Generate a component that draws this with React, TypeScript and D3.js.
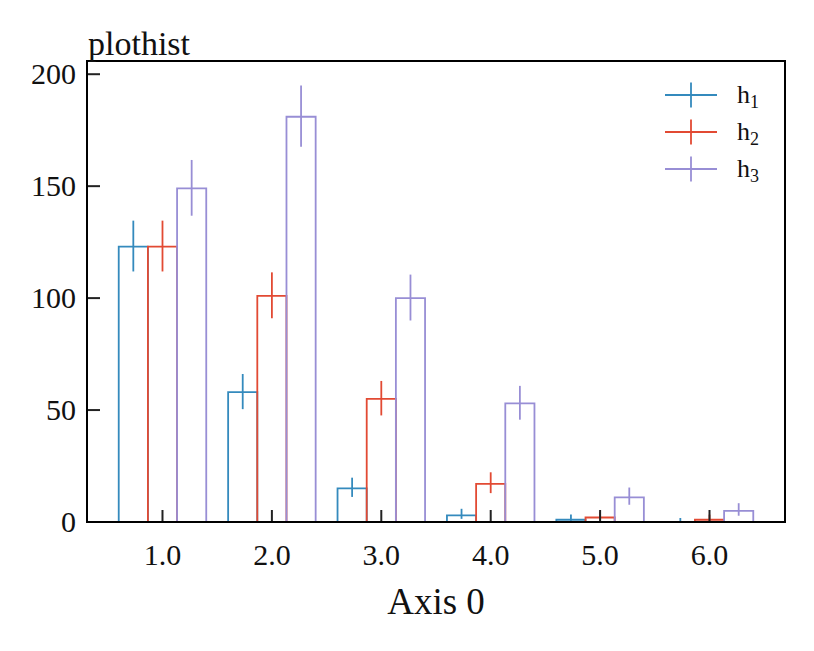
import React from "react";
import * as d3 from "d3";

const binCenters = [1, 2, 3, 4, 5, 6];
const h1Values = [123, 58, 15, 3, 1, 0];
const h1ErrLo = [11.1, 7.6, 3.8, 1.6, 0.8, 0];
const h1ErrHi = [11.6, 8.1, 4.8, 2.9, 2.3, 1.8];
const h2Values = [123, 101, 55, 17, 2, 1];
const h2ErrLo = [11.1, 10.0, 7.4, 4.1, 1.3, 0.8];
const h2ErrHi = [11.6, 10.5, 8.0, 5.2, 2.6, 2.3];
const h3Values = [149, 181, 100, 53, 11, 5];
const h3ErrLo = [12.2, 13.4, 10.0, 7.3, 3.3, 2.2];
const h3ErrHi = [12.7, 14.0, 10.5, 7.8, 4.4, 3.4];
const xTicks = [1, 2, 3, 4, 5, 6];
const yTicks = [0, 50, 100, 150, 200];
const seriesNames = ["1", "2", "3"];
const seriesColors = ["#348ABD", "#E24A33", "#988ED5"];

const W = 814;
const H = 651;
const M = { left: 87, right: 785, top: 61, bottom: 522 };
const FONT = "'Liberation Serif', 'Times New Roman', serif";

export default function App() {
  const x = d3.scaleLinear().domain([0.31, 6.69]).range([M.left, M.right]);
  const y = d3.scaleLinear().domain([0, 205.9]).range([M.bottom, M.top]);
  const series = [
    { v: h1Values, lo: h1ErrLo, hi: h1ErrHi },
    { v: h2Values, lo: h2ErrLo, hi: h2ErrHi },
    { v: h3Values, lo: h3ErrLo, hi: h3ErrHi },
  ];
  const groupW = 0.8;
  const subW = groupW / series.length;

  return (
    <svg
      width={W}
      height={H}
      style={{ position: "absolute", left: 0, top: 0, background: "#fff" }}
      fontFamily={FONT}
    >
      <rect x={0} y={0} width={W} height={H} fill="#fff" />
      <defs>
        <clipPath id="plotclip">
          <rect x={M.left} y={M.top} width={M.right - M.left} height={M.bottom - M.top} />
        </clipPath>
      </defs>
      <g clipPath="url(#plotclip)">
        {series.map((s, si) => (
          <g key={si} stroke={seriesColors[si]} fill="none" strokeWidth={1.8}>
            {binCenters.map((c, bi) => {
              const x0 = x(c - groupW / 2 + si * subW);
              const x1 = x(c - groupW / 2 + (si + 1) * subW);
              const xm = (x0 + x1) / 2;
              const v = s.v[bi];
              const p = d3.path();
              p.moveTo(x0, y(0));
              p.lineTo(x0, y(v));
              p.lineTo(x1, y(v));
              p.lineTo(x1, y(0));
              return (
                <g key={bi}>
                  <path d={p.toString()} />
                  <line x1={xm} x2={xm} y1={y(v - s.lo[bi])} y2={y(v + s.hi[bi])} />
                </g>
              );
            })}
          </g>
        ))}
      </g>
      {xTicks.map((t) => (
        <g key={"x" + t}>
          <line x1={x(t)} x2={x(t)} y1={M.bottom} y2={M.bottom - 12} stroke="#222" strokeWidth={2} />
          <text x={x(t)} y={565} textAnchor="middle" fontSize={30} fill="#111">
            {t.toFixed(1)}
          </text>
        </g>
      ))}
      {yTicks.map((t) => (
        <g key={"y" + t}>
          <line x1={M.left} x2={M.left + 13} y1={y(t)} y2={y(t)} stroke="#222" strokeWidth={2} />
          <text x={76} y={y(t) + 10} textAnchor="end" fontSize={30} fill="#111">
            {t}
          </text>
        </g>
      ))}
      <rect
        x={M.left}
        y={M.top}
        width={M.right - M.left}
        height={M.bottom - M.top}
        fill="none"
        stroke="#000"
        strokeWidth={2}
      />
      <text x={88} y={55} fontSize={34} fill="#111">
        plothist
      </text>
      <text x={(M.left + M.right) / 2} y={614} textAnchor="middle" fontSize={37} fill="#111">
        Axis 0
      </text>
      {seriesNames.map((n, i) => {
        const cy = 95 + i * 37;
        return (
          <g key={"l" + n}>
            <line x1={665} x2={717} y1={cy} y2={cy} stroke={seriesColors[i]} strokeWidth={1.8} />
            <line x1={691} x2={691} y1={cy - 12.5} y2={cy + 12.5} stroke={seriesColors[i]} strokeWidth={1.8} />
            <text x={737} y={cy + 8} fontSize={26} fill="#111">
              h
              <tspan fontSize={18} dy={5}>
                {n}
              </tspan>
            </text>
          </g>
        );
      })}
    </svg>
  );
}
